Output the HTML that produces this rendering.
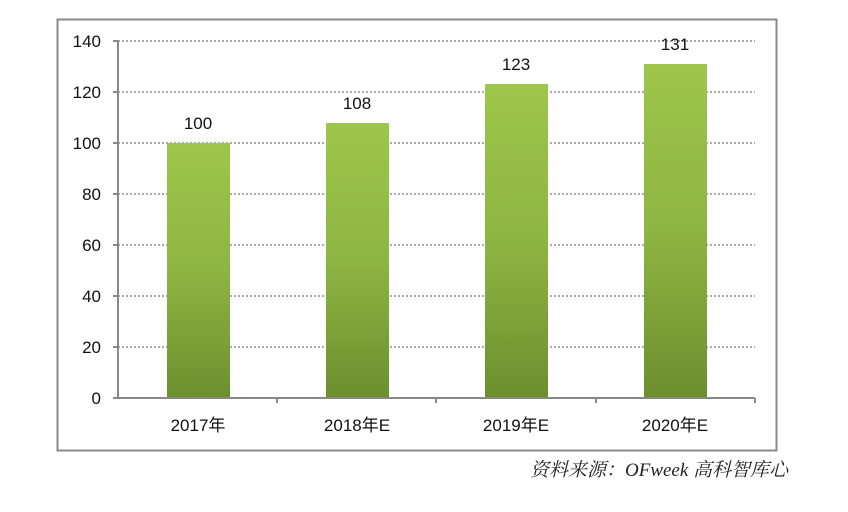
<!DOCTYPE html>
<html><head><meta charset="utf-8"><style>body{margin:0;background:#fff}</style></head><body>
<svg width="848" height="507" xmlns="http://www.w3.org/2000/svg" font-family="Liberation Sans, Noto Sans CJK SC, sans-serif">
<defs><linearGradient id="g" x1="0" y1="0" x2="0" y2="1"><stop offset="0" stop-color="#9dc64a"/><stop offset="0.5" stop-color="#8db542"/><stop offset="1" stop-color="#6c8f2e"/></linearGradient></defs>
<rect x="57.5" y="19.5" width="719" height="431" fill="#fff" stroke="#8a8a8a" stroke-width="2"/>
<g stroke="#777" stroke-width="1.3" stroke-dasharray="2,2">
<line x1="118" y1="41" x2="755" y2="41"/><line x1="118" y1="92" x2="755" y2="92"/><line x1="118" y1="143" x2="755" y2="143"/><line x1="118" y1="194" x2="755" y2="194"/><line x1="118" y1="245" x2="755" y2="245"/><line x1="118" y1="296" x2="755" y2="296"/><line x1="118" y1="347" x2="755" y2="347"/>
</g>
<g fill="url(#g)">
<rect x="167" y="143" width="63" height="255"/><rect x="326" y="123" width="63" height="275"/><rect x="485" y="84" width="63" height="314"/><rect x="644" y="64" width="63" height="334"/>
</g>
<g stroke="#888" stroke-width="2" fill="none">
<line x1="118" y1="41" x2="118" y2="398"/><line x1="118" y1="398" x2="755" y2="398"/>
<line x1="113" y1="41" x2="118" y2="41"/><line x1="113" y1="92" x2="118" y2="92"/><line x1="113" y1="143" x2="118" y2="143"/><line x1="113" y1="194" x2="118" y2="194"/><line x1="113" y1="245" x2="118" y2="245"/><line x1="113" y1="296" x2="118" y2="296"/><line x1="113" y1="347" x2="118" y2="347"/><line x1="113" y1="398" x2="118" y2="398"/>
<line x1="277" y1="398" x2="277" y2="403"/><line x1="436" y1="398" x2="436" y2="403"/><line x1="596" y1="398" x2="596" y2="403"/><line x1="755" y1="398" x2="755" y2="403"/>
</g>
<g font-size="17" fill="#111" text-anchor="end">
<text x="101" y="47">140</text><text x="101" y="98">120</text><text x="101" y="149">100</text><text x="101" y="200">80</text><text x="101" y="251">60</text><text x="101" y="302">40</text><text x="101" y="353">20</text><text x="101" y="404">0</text>
</g>
<g font-size="17" fill="#111" text-anchor="middle">
<text x="198" y="129">100</text><text x="357" y="109">108</text><text x="516" y="70">123</text><text x="675" y="50">131</text>
<text x="198" y="431">2017年</text><text x="357" y="431">2018年E</text><text x="516" y="431">2019年E</text><text x="675" y="431">2020年E</text>
</g>
<text x="530" y="476" font-size="19" font-style="italic" fill="#222" font-family="Liberation Serif, Noto Serif CJK SC, serif">资料来源：OFweek 高科智库心</text>
</svg>
</body></html>
